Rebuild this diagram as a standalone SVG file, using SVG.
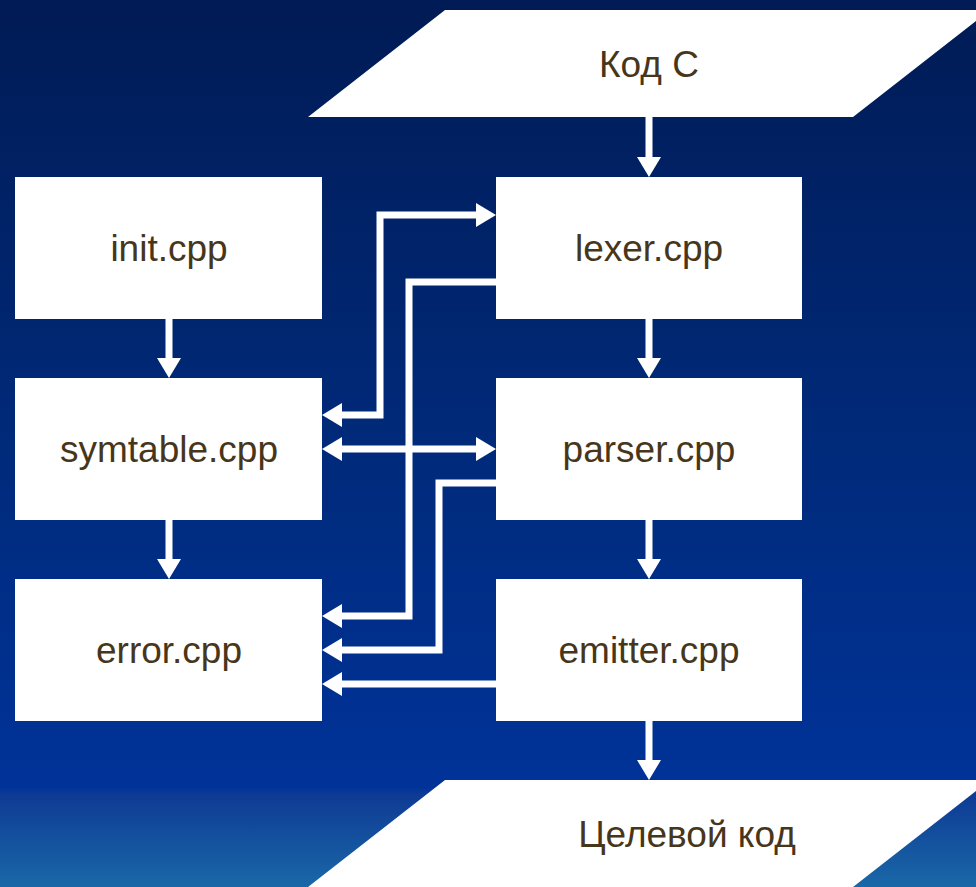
<svg xmlns="http://www.w3.org/2000/svg" width="976" height="887" viewBox="0 0 976 887">
  <defs>
    <linearGradient id="bg" x1="0" y1="0" x2="0" y2="1">
      <stop offset="0" stop-color="#001b55"/>
      <stop offset="0.5" stop-color="#002a7a"/>
      <stop offset="0.888" stop-color="#003399"/>
      <stop offset="0.895" stop-color="#0e3a94"/>
      <stop offset="1" stop-color="#1a68a8"/>
    </linearGradient>
    <marker id="ah" markerUnits="userSpaceOnUse" markerWidth="20" markerHeight="24" refX="0" refY="12" orient="auto-start-reverse" viewBox="0 0 20 24">
      <path d="M0,0 L20,12 L0,24 Z" fill="#ffffff"/>
    </marker>
    <style>
      .box { fill: #ffffff; }
      .lbl { font-family: "Liberation Sans", Arial, sans-serif; font-size: 37px; fill: #47361a; text-anchor: middle; }
      .con { fill: none; stroke: #ffffff; stroke-width: 7; stroke-linejoin: miter; }
    </style>
  </defs>
  <rect x="0" y="0" width="976" height="887" fill="url(#bg)"/>

  <g id="code-c">
    <polygon class="box" points="445,10 990,10 853,117 308,117"/>
    <text class="lbl" x="649" y="77">Код С</text>
  </g>
  <g id="target-code">
    <polygon class="box" points="445,780 990,780 853,887 308,887"/>
    <text class="lbl" x="687" y="847">Целевой код</text>
  </g>

  <g id="init">
    <rect class="box" x="15" y="177" width="307" height="142"/>
    <text class="lbl" x="169" y="261">init.cpp</text>
  </g>
  <g id="symtable">
    <rect class="box" x="15" y="378" width="307" height="142"/>
    <text class="lbl" x="169" y="462">symtable.cpp</text>
  </g>
  <g id="error">
    <rect class="box" x="15" y="579" width="307" height="142"/>
    <text class="lbl" x="169" y="663">error.cpp</text>
  </g>
  <g id="lexer">
    <rect class="box" x="496" y="177" width="306" height="142"/>
    <text class="lbl" x="649" y="261">lexer.cpp</text>
  </g>
  <g id="parser">
    <rect class="box" x="496" y="378" width="306" height="142"/>
    <text class="lbl" x="649" y="462">parser.cpp</text>
  </g>
  <g id="emitter">
    <rect class="box" x="496" y="579" width="306" height="142"/>
    <text class="lbl" x="649" y="663">emitter.cpp</text>
  </g>

  <g id="connectors">
    <path class="con" d="M169,319 L169,358" marker-end="url(#ah)"/>
    <path class="con" d="M169,520 L169,559" marker-end="url(#ah)"/>
    <path class="con" d="M649,117 L649,157" marker-end="url(#ah)"/>
    <path class="con" d="M649,319 L649,358" marker-end="url(#ah)"/>
    <path class="con" d="M649,520 L649,559" marker-end="url(#ah)"/>
    <path class="con" d="M649,721 L649,760" marker-end="url(#ah)"/>
    <path class="con" d="M342,415 L380,415 L380,215 L476,215" marker-start="url(#ah)" marker-end="url(#ah)"/>
    <path class="con" d="M496,282 L409,282 L409,616 L342,616" marker-end="url(#ah)"/>
    <path class="con" d="M342,449 L476,449" marker-start="url(#ah)" marker-end="url(#ah)"/>
    <path class="con" d="M496,483 L439,483 L439,650 L342,650" marker-end="url(#ah)"/>
    <path class="con" d="M496,684 L342,684" marker-end="url(#ah)"/>
  </g>
</svg>
